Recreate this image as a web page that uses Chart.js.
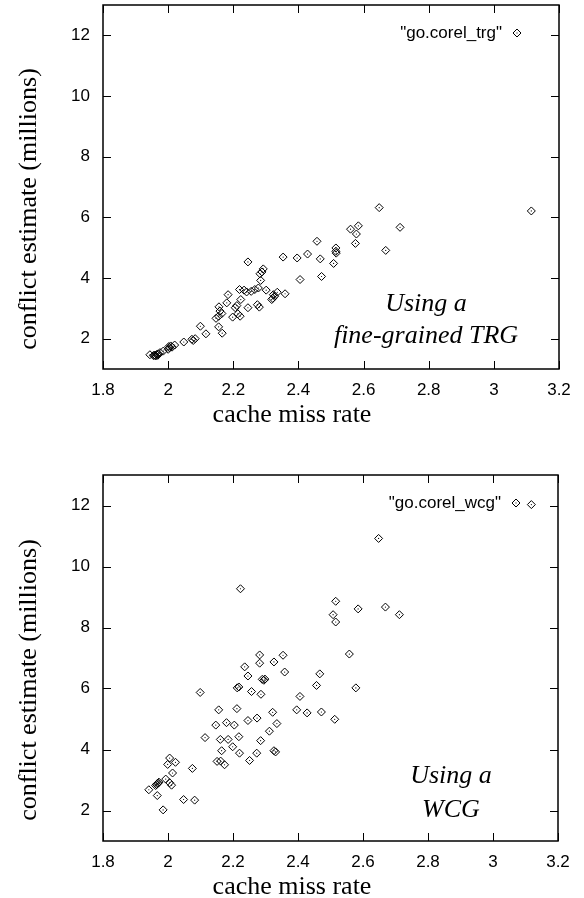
<!DOCTYPE html>
<html><head><meta charset="utf-8">
<script src="https://cdn.jsdelivr.net/npm/chart.js@4.4.1/dist/chart.umd.min.js"></script>
<style>
html,body{margin:0;padding:0;background:#fff;}
canvas{display:block;}
</style></head><body>
<canvas id="c1" width="584" height="449"></canvas>
<canvas id="c2" width="584" height="449"></canvas>
<script>
const xTicks = [1.8, 2, 2.2, 2.4, 2.6, 2.8, 3, 3.2];
const xTickLabels = ['1.8', '2', '2.2', '2.4', '2.6', '2.8', '3', '3.2'];
const yTicks = [2, 4, 6, 8, 10, 12];
const yTickLabels = ['2', '4', '6', '8', '10', '12'];
const xLabel = 'cache miss rate';
const yLabel = 'conflict estimate (millions)';

const trgMissRate = [1.944,1.955,1.958,1.960,1.962,1.965,1.968,1.970,1.975,1.985,
  2.000,2.002,2.004,2.008,2.012,2.020,2.048,2.073,2.077,2.083,
  2.099,2.116,2.155,2.166,2.147,2.155,2.165,2.159,2.156,2.198,
  2.214,2.221,2.180,2.211,2.206,2.245,2.274,2.280,2.223,2.184,
  2.219,2.233,2.241,2.255,2.266,2.277,2.301,2.284,2.282,2.288,
  2.292,2.245,2.318,2.321,2.327,2.323,2.335,2.359,2.353,2.396,
  2.405,2.428,2.467,2.471,2.457,2.508,2.515,2.515,2.516,2.560,
  2.584,2.578,2.575,2.648,2.712,2.668,3.115];
const trgConflict = [1.47,1.44,1.46,1.45,1.43,1.48,1.45,1.50,1.54,1.59,
  1.65,1.74,1.70,1.76,1.72,1.79,1.89,1.98,1.94,2.00,
  2.41,2.16,2.39,2.18,2.67,2.74,2.83,2.91,3.05,2.71,
  2.82,2.74,3.18,3.09,3.02,3.02,3.12,3.04,3.29,3.45,
  3.62,3.60,3.54,3.56,3.62,3.67,3.60,3.92,4.14,4.20,
  4.30,4.53,3.29,3.33,3.40,3.45,3.53,3.48,4.69,4.66,
  3.95,4.79,4.63,4.05,5.21,4.48,4.99,4.88,4.82,5.61,
  5.72,5.45,5.14,6.32,5.67,4.91,6.21];

const wcgMissRate = [3.118,2.648,2.223,2.516,2.585,2.669,2.712,2.508,2.516,2.558,
  2.578,2.282,2.354,2.236,2.282,2.326,2.246,2.359,2.467,2.457,
  2.290,2.295,2.298,2.213,2.218,2.257,2.286,2.099,2.406,2.156,
  2.212,2.322,2.396,2.428,2.472,2.513,2.147,2.180,2.204,2.246,
  2.274,2.335,2.114,2.161,2.185,2.218,2.312,2.285,2.165,2.199,
  2.220,2.273,2.326,2.331,2.251,2.151,2.162,2.174,2.005,1.999,
  2.023,2.014,2.075,1.993,1.972,1.967,1.962,1.965,1.970,1.941,
  2.011,2.005,1.967,2.048,2.082,1.985];
const wcgConflict = [12.03,10.92,9.27,8.86,8.61,8.67,8.42,8.42,8.18,7.13,
  6.02,7.10,7.09,6.71,6.83,6.87,6.41,6.54,6.48,6.10,
  6.30,6.27,6.31,6.02,6.05,5.90,5.81,5.87,5.74,5.30,
  5.34,5.22,5.30,5.20,5.23,4.99,4.80,4.88,4.80,4.95,
  5.03,4.85,4.39,4.33,4.33,4.42,4.60,4.29,3.96,4.09,
  3.88,3.88,3.96,3.92,3.64,3.61,3.62,3.50,3.72,3.51,
  3.58,3.23,3.38,3.03,2.93,2.88,2.82,2.85,2.90,2.68,
  2.83,2.91,2.49,2.36,2.34,2.02];

const SANS = '"Liberation Sans", Arial, Helvetica, sans-serif';
const SERIF = '"Liberation Serif", "Times New Roman", Times, serif';

function pts(xs, ys) { return xs.map((x, i) => ({ x: x, y: ys[i] })); }

function diamond(ctx, cx, cy, r) {
  ctx.beginPath();
  ctx.moveTo(cx, cy - r); ctx.lineTo(cx + r, cy); ctx.lineTo(cx, cy + r); ctx.lineTo(cx - r, cy); ctx.closePath();
  ctx.stroke();
  ctx.fillRect(cx - 0.5, cy - 0.5, 1, 1);
}

function framePlugin(cfg) {
  return {
    id: 'frame',
    afterDraw(chart) {
      const ctx = chart.ctx, a = chart.chartArea, xs = chart.scales.x, ys = chart.scales.y;
      ctx.save();
      ctx.strokeStyle = '#000';
      ctx.fillStyle = '#000';
      ctx.lineWidth = 1.5;
      ctx.strokeRect(a.left, a.top, a.right - a.left, a.bottom - a.top);
      ctx.lineWidth = 1;
      ctx.beginPath();
      const tl = 8;
      xTicks.forEach(v => {
        const px = Math.round(xs.getPixelForValue(v)) + 0.5;
        ctx.moveTo(px, a.bottom); ctx.lineTo(px, a.bottom - tl);
        ctx.moveTo(px, a.top); ctx.lineTo(px, a.top + tl);
      });
      yTicks.forEach(v => {
        const py = Math.round(ys.getPixelForValue(v)) + 0.5;
        ctx.moveTo(a.left, py); ctx.lineTo(a.left + tl, py);
        ctx.moveTo(a.right, py); ctx.lineTo(a.right - tl, py);
      });
      ctx.stroke();

      // axis titles
      ctx.font = '26px ' + SERIF;
      ctx.textAlign = 'center';
      ctx.textBaseline = 'alphabetic';
      ctx.fillText(xLabel, chart.width / 2, a.bottom + 53);
      ctx.save();
      ctx.translate(29, (a.top + a.bottom) / 2 + 22);
      ctx.rotate(-Math.PI / 2);
      ctx.textBaseline = 'middle';
      ctx.fillText(yLabel, 0, 0);
      ctx.restore();

      // key
      ctx.font = '17px ' + SANS;
      ctx.textAlign = 'right';
      ctx.textBaseline = 'middle';
      ctx.fillText(cfg.key, a.right - 57, a.top + 28);
      diamond(ctx, a.right - 42, a.top + 28, 4);

      // annotation
      ctx.font = 'italic 26px ' + SERIF;
      ctx.textAlign = 'center';
      ctx.textBaseline = 'alphabetic';
      cfg.note.forEach((line, i) => {
        ctx.fillText(line, a.right - cfg.noteDx, a.bottom - cfg.noteDy[i]);
      });
      ctx.restore();
    }
  };
}

function makeChart(id, xs, ys, cfg) {
  return new Chart(document.getElementById(id), {
    type: 'scatter',
    data: {
      datasets: [
        { label: cfg.key, data: pts(xs, ys), pointStyle: 'rectRot', pointRadius: 4, pointHoverRadius: 4,
          borderColor: '#000', backgroundColor: 'rgba(0,0,0,0)', borderWidth: 1 },
        { label: '', data: pts(xs, ys), pointStyle: 'circle', pointRadius: 0.6, pointHoverRadius: 0.6,
          borderColor: '#000', backgroundColor: '#000', borderWidth: 0 }
      ]
    },
    options: {
      responsive: false,
      animation: false,
      events: [],
      layout: { padding: { top: cfg.padTop, right: cfg.padRight, bottom: 0, left: 0 } },
      plugins: { legend: { display: false }, tooltip: { enabled: false }, title: { display: false } },
      scales: {
        x: {
          type: 'linear', min: 1.8, max: 3.2,
          grid: { display: false, drawTicks: false },
          border: { display: false },
          ticks: { font: { family: SANS, size: 17 }, color: '#000', padding: 11, maxRotation: 0, autoSkip: false,
                   callback: (v, i) => xTickLabels[i] },
          afterBuildTicks: s => { s.ticks = xTicks.map(v => ({ value: v })); },
          afterFit: s => { s.height = cfg.xh; s.paddingLeft = 0; s.paddingRight = 0; }
        },
        y: {
          type: 'linear', min: 1, max: 13,
          grid: { display: false, drawTicks: false },
          border: { display: false },
          ticks: { font: { family: SANS, size: 17 }, color: '#000', padding: 13, autoSkip: false,
                   callback: (v, i) => yTickLabels[i] },
          afterBuildTicks: s => { s.ticks = yTicks.map(v => ({ value: v })); },
          afterFit: s => { s.width = 103; s.paddingTop = 0; s.paddingBottom = 0; }
        }
      }
    },
    plugins: [framePlugin(cfg)]
  });
}

makeChart('c1', trgMissRate, trgConflict, {
  key: '"go.corel_trg"', padTop: 5, padRight: 25, xh: 80,
  note: ['Using a', 'fine-grained TRG'], noteDx: 133, noteDy: [58, 26]
});
makeChart('c2', wcgMissRate, wcgConflict, {
  key: '"go.corel_wcg"', padTop: 26, padRight: 26, xh: 57,
  note: ['Using a', 'WCG'], noteDx: 107, noteDy: [58, 24]
});
</script>
</body></html>
